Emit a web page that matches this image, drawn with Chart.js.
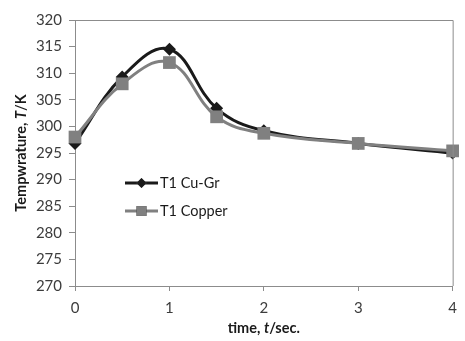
<!DOCTYPE html>
<html>
<head>
<meta charset="utf-8">
<script src="https://cdn.jsdelivr.net/npm/chart.js@4/dist/chart.umd.min.js"></script>
<style>
  html, body { margin: 0; padding: 0; background: #fff; }
  #wrap { width: 465px; height: 341px; position: relative; }
</style>
</head>
<body>
<div id="wrap"><canvas id="chart" width="465" height="341"></canvas></div>
<script>
// time points (s) and temperatures (K)
const timeValues = [0, 0.5, 1, 1.5, 2, 3, 4];
const cuGrTemps = [296.8, 309.3, 314.5, 303.4, 299.2, 296.8, 295.0];
const copperTemps = [298.0, 308.0, 312.0, 301.8, 298.7, 296.8, 295.4];
const seriesNames = ["T1 Cu-Gr", "T1 Copper"];
const xTicks = [0, 1, 2, 3, 4];
const yMin = 270, yMax = 320, yStep = 5;

const FONT = "Lato, 'Open Sans', sans-serif";
const axisGray = "#8c8c8c";
const textColor = "#3c3c3c";

function toPoints(xs, ys) {
  return xs.map((x, i) => ({ x: x, y: ys[i] }));
}

// draws the box border, the axis titles (with italic parts) and the inside legend
const decorPlugin = {
  id: 'decor',
  afterDraw(chart) {
    const ctx = chart.ctx;
    const a = chart.chartArea;
    ctx.save();

    // frame on top and right side
    ctx.strokeStyle = axisGray;
    ctx.lineWidth = 1;
    ctx.beginPath();
    ctx.moveTo(a.left, a.top + 0.5);
    ctx.lineTo(a.right + 0.5, a.top + 0.5);
    ctx.lineTo(a.right + 0.5, a.bottom);
    ctx.stroke();

    // rich text helper
    function drawRich(parts, cx, cy, rotate) {
      ctx.save();
      ctx.translate(cx, cy);
      if (rotate) ctx.rotate(-Math.PI / 2);
      let total = 0;
      parts.forEach(p => { ctx.font = p.font; total += ctx.measureText(p.text).width; });
      let x = -total / 2;
      ctx.fillStyle = "#1a1a1a";
      ctx.textBaseline = "middle";
      ctx.textAlign = "left";
      parts.forEach(p => {
        ctx.font = p.font;
        ctx.fillText(p.text, x, 0);
        x += ctx.measureText(p.text).width;
      });
      ctx.restore();
    }
    const bold = "bold 14.5px " + FONT;
    const boldIt = "italic bold 14.5px " + FONT;
    drawRich([{ text: "time, ", font: bold }, { text: "t", font: boldIt }, { text: "/sec.", font: bold }],
      (a.left + a.right) / 2, 328, false);
    drawRich([{ text: "Tempwrature, ", font: bold }, { text: "T", font: boldIt }, { text: "/K", font: bold }],
      21, (a.top + a.bottom) / 2, true);

    // legend inside the plot
    const lx = a.left + 50, ly = a.top + 163, gap = 28;
    chart.data.datasets.forEach((ds, i) => {
      const y = ly + i * gap;
      ctx.strokeStyle = ds.borderColor;
      ctx.lineWidth = ds.borderWidth;
      ctx.beginPath();
      ctx.moveTo(lx, y);
      ctx.lineTo(lx + 33, y);
      ctx.stroke();
      Chart.helpers.drawPoint(ctx, {
        pointStyle: ds.pointStyle,
        radius: ds.legendRadius,
        borderWidth: 0,
        rotation: 0
      }, lx + 16.5, y);
      ctx.fillStyle = ds.pointBackgroundColor;
      ctx.fill();
      ctx.fillStyle = "#1a1a1a";
      ctx.font = "14.5px " + FONT;
      ctx.textBaseline = "middle";
      ctx.textAlign = "left";
      ctx.fillText(ds.label, lx + 35, y);
    });
    ctx.restore();
  }
};

const ctx = document.getElementById('chart').getContext('2d');
const chart = new Chart(ctx, {
  type: 'line',
  data: {
    datasets: [
      {
        label: seriesNames[0],
        data: toPoints(timeValues, cuGrTemps),
        borderColor: '#1a1a1a',
        backgroundColor: '#1a1a1a',
        pointBackgroundColor: '#1a1a1a',
        pointBorderColor: '#1a1a1a',
        borderWidth: 3,
        pointStyle: 'rectRot',
        pointRadius: 6.5,
        legendRadius: 5,
        pointBorderWidth: 0,
        tension: 0.4,
        fill: false,
        clip: false,
        order: 1
      },
      {
        label: seriesNames[1],
        data: toPoints(timeValues, copperTemps),
        borderColor: '#808080',
        backgroundColor: '#808080',
        pointBackgroundColor: '#808080',
        pointBorderColor: '#808080',
        borderWidth: 3,
        pointStyle: 'rect',
        pointRadius: 9,
        legendRadius: 7,
        pointBorderWidth: 0,
        tension: 0.4,
        fill: false,
        clip: false,
        order: 0
      }
    ]
  },
  options: {
    responsive: false,
    animation: false,
    devicePixelRatio: 1,
    layout: { padding: { top: 20, right: 9, left: 0, bottom: 0 } },
    plugins: {
      legend: { display: false },
      tooltip: { enabled: false }
    },
    scales: {
      x: {
        type: 'linear',
        min: 0,
        max: 4,
        afterBuildTicks: (scale) => { scale.ticks = xTicks.map(v => ({ value: v })); },
        afterFit: (scale) => { scale.height = 55; },
        border: { color: axisGray, width: 1 },
        grid: { drawOnChartArea: false, drawTicks: true, tickLength: 5, color: axisGray },
        ticks: { color: textColor, font: { family: FONT, size: 15 }, padding: 8 }
      },
      y: {
        min: yMin,
        max: yMax,
        afterFit: (scale) => { scale.width = 75; },
        border: { color: axisGray, width: 1 },
        grid: { drawOnChartArea: false, drawTicks: true, tickLength: 6, color: axisGray },
        ticks: { stepSize: yStep, autoSkip: false, color: textColor, font: { family: FONT, size: 15 }, padding: 7 }
      }
    }
  },
  plugins: [decorPlugin]
});
</script>
</body>
</html>
